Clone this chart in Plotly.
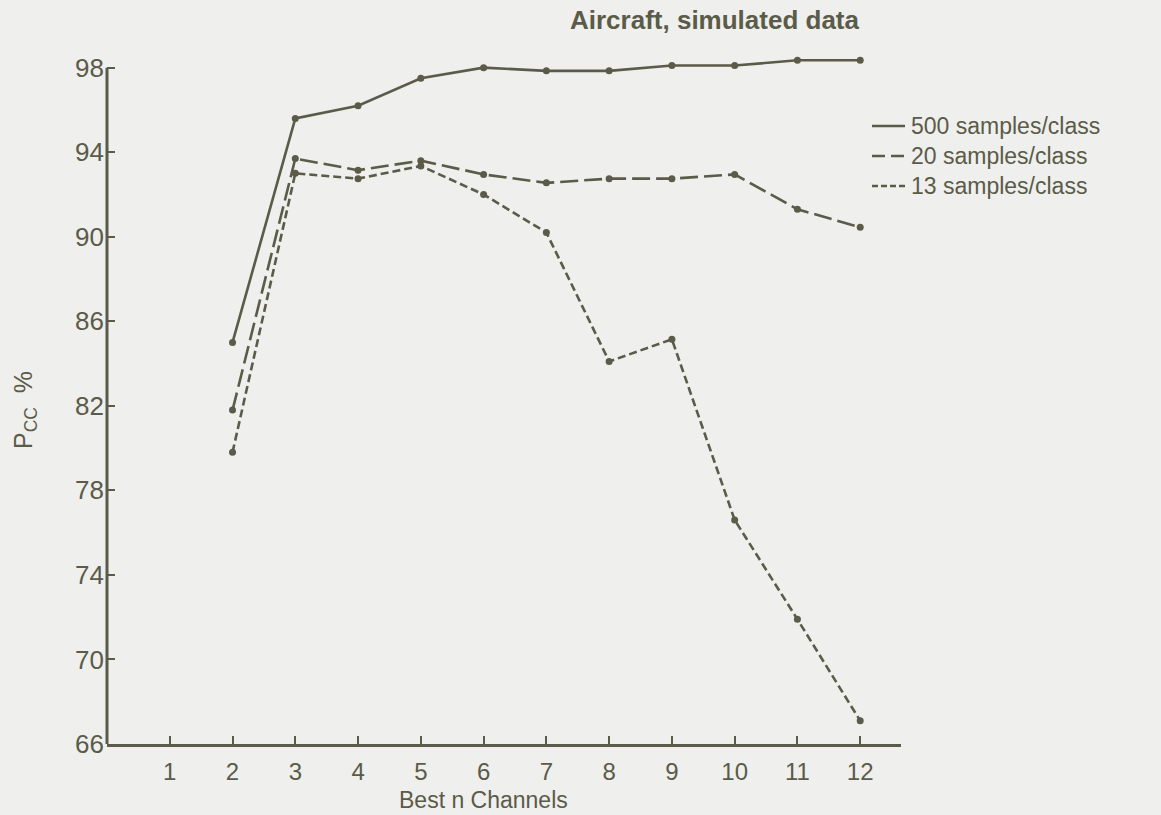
import plotly.graph_objects as go

# Classification accuracy vs. number of best channels kept
channels = [2, 3, 4, 5, 6, 7, 8, 9, 10, 11, 12]
pcc_500 = [85.0, 95.6, 96.2, 97.5, 98.0, 97.85, 97.85, 98.1, 98.1, 98.35, 98.35]
pcc_20 = [81.8, 93.7, 93.15, 93.6, 92.95, 92.55, 92.75, 92.75, 92.95, 91.3, 90.45]
pcc_13 = [79.8, 93.0, 92.75, 93.35, 92.0, 90.2, 84.1, 85.15, 76.6, 71.9, 67.1]

series_names = ["500 samples/class", "20 samples/class", "13 samples/class"]
x_ticks = list(range(1, 13))
y_ticks = list(range(66, 99, 4))

ink = "#5a5b48"
paper = "#efefed"
font_family = "Liberation Sans, Arial, sans-serif"

line_dashes = ["solid", "18px,6px", "8px,4px"]
legend_dashes = ["solid", "13px,6px", "6px,3px"]

fig = go.Figure()
for name, vals, dash in zip(series_names, [pcc_500, pcc_20, pcc_13], line_dashes):
    fig.add_trace(go.Scatter(
        x=channels, y=vals, name=name, mode="lines+markers",
        line=dict(color=ink, width=2.6, dash=dash),
        marker=dict(color=ink, size=7),
        cliponaxis=False,
    ))

# plot area geometry (pixels) used to place the hand-drawn legend
top, bottom, left, right = 55, 71, 107, 260
plot_h = 815 - top - bottom
plot_w = 1161 - left - right


def px_x(px):
    return (px - left) / plot_w


def px_y(py):
    return 1 - (py - top) / plot_h


shapes = [
    # left axis line, running only from 66 up to the 98 tick
    dict(type="line", xref="paper", yref="y", x0=0, x1=0, y0=66, y1=98,
         line=dict(color=ink, width=3)),
]
annotations = [
    dict(text="<b>Aircraft, simulated data</b>", x=px_x(862), y=px_y(20),
         xref="paper", yref="paper", xanchor="right", yanchor="middle",
         showarrow=False, font=dict(size=26, color=ink)),
    dict(text="Best n Channels", x=px_x(483), y=px_y(800),
         xref="paper", yref="paper", xanchor="center", yanchor="middle",
         showarrow=False, font=dict(size=23, color=ink)),
    dict(text="P<sub>CC</sub>  %", x=px_x(25), y=px_y(410),
         xref="paper", yref="paper", xanchor="center", yanchor="middle",
         textangle=-90, showarrow=False, font=dict(size=25, color=ink)),
    # legend labels, one line per series
    dict(text="<br>".join(series_names), x=px_x(909), y=px_y(156),
         xref="paper", yref="paper", xanchor="left", yanchor="middle",
         align="left", showarrow=False, font=dict(size=23, color=ink)),
]
legend_rows = [126, 156, 186]
for dash, row in zip(legend_dashes, legend_rows):
    shapes.append(dict(type="line", xref="paper", yref="paper",
                       x0=px_x(872), x1=px_x(905), y0=px_y(row), y1=px_y(row),
                       line=dict(color=ink, width=2.6, dash=dash)))

fig.update_layout(
    width=1161, height=815,
    margin=dict(l=left, r=right, t=top, b=bottom),
    paper_bgcolor=paper, plot_bgcolor=paper,
    font=dict(family=font_family, color=ink, size=20),
    showlegend=False,
    shapes=shapes,
    annotations=annotations,
)
fig.update_xaxes(
    range=[0, 12.65], tickvals=x_ticks, ticktext=[str(t) for t in x_ticks],
    ticks="inside", ticklen=8, tickwidth=2, tickcolor=ink,
    showline=True, linecolor=ink, linewidth=3, showgrid=False, zeroline=False,
    tickfont=dict(size=24), ticklabelstandoff=4,
)
fig.update_yaxes(
    range=[66, 98.6], tickvals=y_ticks, ticktext=[str(t) for t in y_ticks],
    ticks="inside", ticklen=8, tickwidth=2, tickcolor=ink,
    showline=False, showgrid=False, zeroline=False,
    tickfont=dict(size=26), ticklabelstandoff=2,
)

fig.write_html("out.html")
